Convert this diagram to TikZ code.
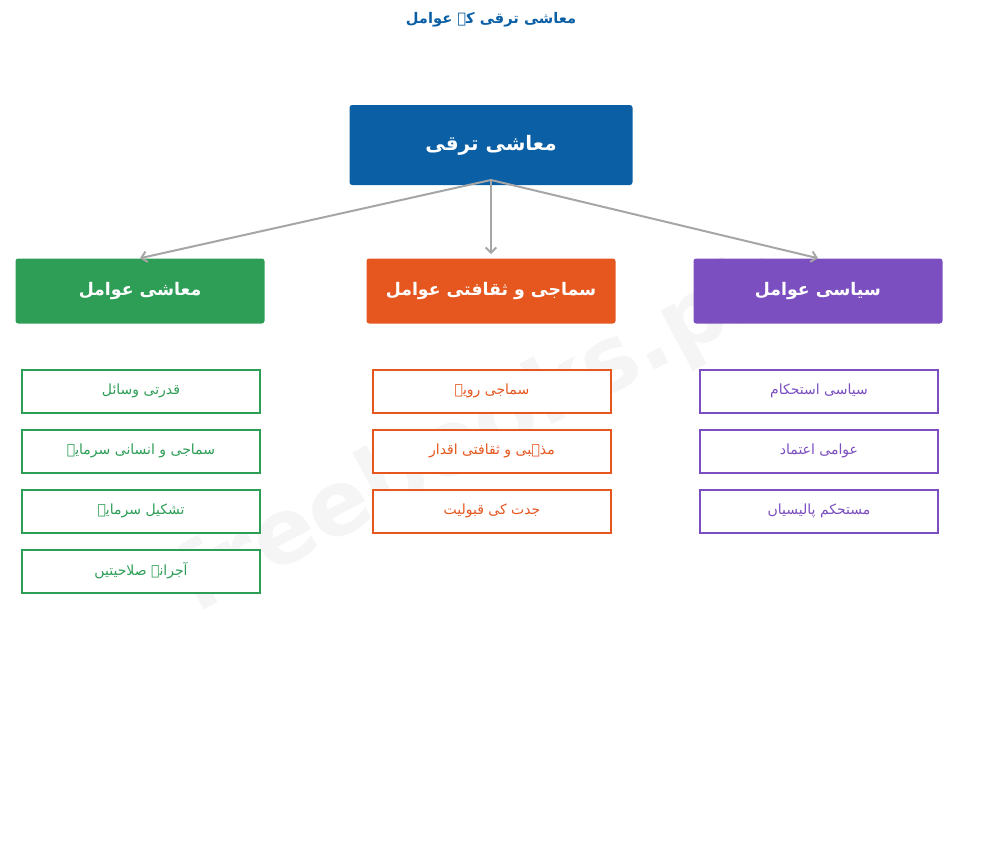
\documentclass[tikz,border=0pt]{standalone}
\usepackage{fontspec}
\setmainfont{DejaVu Sans}
\newfontfamily\urdu[Script=Arabic]{DejaVu Sans}
\usetikzlibrary{arrows.meta}
\TeXXeTstate=1
\newcommand{\ur}[1]{{\urdu\beginR #1\endR}}
\definecolor{RootBlue}{HTML}{0B5FA5}
\definecolor{EcoGreen}{HTML}{2E9E57}
\definecolor{SocOrange}{HTML}{E5571F}
\definecolor{PolPurple}{HTML}{7B4FC0}
\tikzset{
  head/.style={rounded corners=2pt, text=white, font=\bfseries\fontsize{13}{15}\selectfont, minimum width=249*0.75pt, minimum height=65*0.75pt, inner sep=0pt},
  leaf/.style={draw=#1, line width=1.5pt, text=#1, fill=white, font=\fontsize{10.5}{12}\selectfont, minimum width=238*0.75pt, minimum height=43*0.75pt, inner sep=0pt},
  link/.style={draw=gray!70, line width=1.5pt, -{Straight Barb[length=4pt]}}
}
\begin{document}
\begin{tikzpicture}[x=0.75pt, y=-0.75pt]
  \useasboundingbox (0,0) rectangle (983,857);
  % watermark
  \node[rotate=28, text=gray!8, font=\bfseries\fontsize{68}{76}\selectfont] at (480,435) {freebooks.pk};
  % title
  \node[text=RootBlue, font=\bfseries\fontsize{11}{13}\selectfont] (title) at (491,20) {\ur{معاشی ترقی کے عوامل}};
  % root
  \node[head, fill=RootBlue, minimum width=283*0.75pt, minimum height=80*0.75pt, font=\bfseries\fontsize{15}{18}\selectfont] (root) at (491,145) {\ur{معاشی ترقی}};
  % categories
  \node[head, fill=EcoGreen] (eco) at (140,291) {\ur{معاشی عوامل}};
  \node[head, fill=SocOrange] (soc) at (491,291) {\ur{سماجی و ثقافتی عوامل}};
  \node[head, fill=PolPurple] (pol) at (818,291) {\ur{سیاسی عوامل}};
  \coordinate (from) at (491,180);
  \draw[link] (from) -- (eco.north);
  \draw[link] (from) -- ([yshift=3pt]soc.north);
  \draw[link] (from) -- (pol.north);
  % leaves
  \node[leaf=EcoGreen] (e1) at (141,391) {\ur{قدرتی وسائل}};
  \node[leaf=EcoGreen] (e2) at (141,451) {\ur{سماجی و انسانی سرمایہ}};
  \node[leaf=EcoGreen] (e3) at (141,511) {\ur{تشکیل سرمایہ}};
  \node[leaf=EcoGreen] (e4) at (141,571) {\ur{آجرانہ صلاحیتیں}};
  \node[leaf=SocOrange] (s1) at (492,391) {\ur{سماجی رویے}};
  \node[leaf=SocOrange] (s2) at (492,451) {\ur{مذہبی و ثقافتی اقدار}};
  \node[leaf=SocOrange] (s3) at (492,511) {\ur{جدت کی قبولیت}};
  \node[leaf=PolPurple] (p1) at (819,391) {\ur{سیاسی استحکام}};
  \node[leaf=PolPurple] (p2) at (819,451) {\ur{عوامی اعتماد}};
  \node[leaf=PolPurple] (p3) at (819,511) {\ur{مستحکم پالیسیاں}};
\end{tikzpicture}
\end{document}
